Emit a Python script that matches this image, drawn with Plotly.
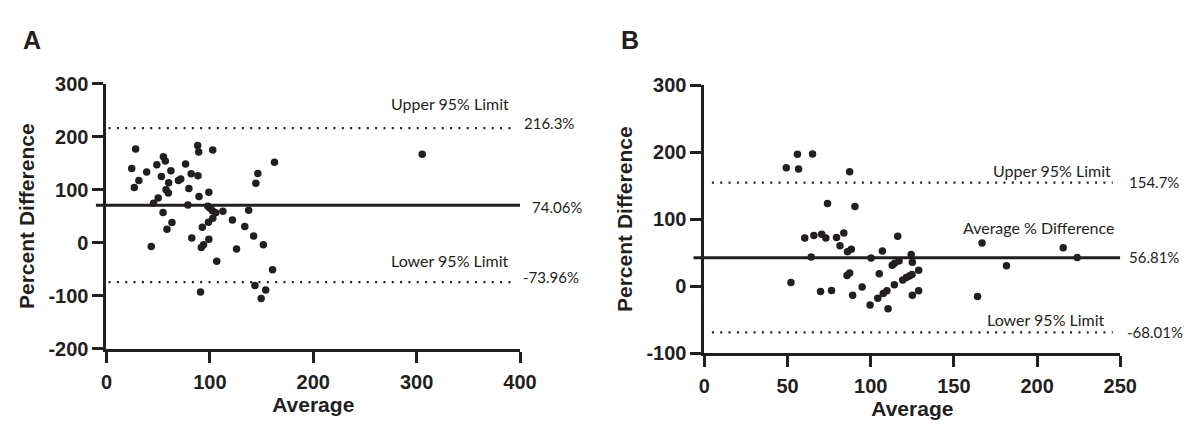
import plotly.graph_objects as go

W, H = 1193, 424
INK = "#231f20"

# ---------------- Panel A data ----------------
a_avg = [24.4, 28.2, 26.9, 31.3, 38.9, 43.3, 45.5, 48.7, 50.0, 53.1,
         54.7, 55.0, 56.9, 57.6, 58.5, 59.8, 60.1, 62.3, 63.3, 69.6,
         71.8, 76.5, 78.7, 79.7, 81.9, 82.5, 88.2, 89.2, 88.5, 89.5,
         91.0, 91.7, 93.9, 92.7, 98.6, 99.0, 99.0, 98.0, 100.2, 102.5,
         102.8, 102.8, 105.6, 106.6, 112.6, 121.8, 125.8, 133.8, 137.5, 142.3,
         143.6, 144.5, 146.4, 149.6, 151.7, 154.0, 160.6, 162.5, 305.4]
a_diff = [140, 177, 104, 117.5, 133.6, -7, 74.6, 147, 84.6, 125,
          57, 162, 154.4, 100, 25.6, 94, 113, 136, 38, 117.5,
          120.4, 148.5, 71, 102.5, 130, 9, 183.7, 171, 126.5, 87,
          -93, -9, -4, 29.2, 38.8, 6.6, 95.4, 69, 65, 60.5,
          46, 175, 56.7, -35, 59.6, 43, -12, 30.4, 61.4, 12.5,
          -81, 112, 130.6, -105.5, -4, -89.4, -51, 152, 167]
a_upper, a_mean, a_lower = 216.3, 70.8, -74.3
a_labels = ["216.3%", "74.06%", "-73.96%"]
a_solid_x = [-10.4, 400]
a_dot_x = [2, 392.6]
a_xticks = [0, 100, 200, 300, 400]
a_yticks = [-200, -100, 0, 100, 200, 300]

# ---------------- Panel B data ----------------
b_avg = [49.2, 55.9, 56.6, 65.0, 52.0, 60.3, 65.8, 64.2, 70.5, 73.0,
         74.0, 69.8, 76.4, 79.4, 81.5, 83.8, 86.0, 88.3, 87.3, 90.5,
         85.7, 87.3, 89.1, 94.8, 99.6, 100.2, 104.2, 105.1, 107.0, 107.5,
         109.7, 110.4, 112.9, 114.3, 114.2, 116.2, 117.0, 119.2, 121.4, 123.2,
         124.3, 124.8, 125.0, 125.0, 128.8, 128.8, 164.2, 166.9, 181.6, 215.7,
         224.1]
b_diff = [177, 197, 175, 197.4, 5.5, 72, 75.5, 43.5, 77.5, 72,
          123.5, -8, -6.5, 72.7, 60.3, 79.5, 51.5, 55, 171, 119,
          16, 19.5, -13.6, -1.2, -28.2, 42, -18, 18.5, 52.3, -11,
          -7, -33.8, 31.2, 34, 1.9, 74.6, 37.4, 9, 12.8, 15.1,
          47.3, 17.5, 35.5, -13.7, 23.7, -7.1, -15.6, 64.4, 30.3, 57.3,
          42.6]
b_upper, b_mean, b_lower = 154.7, 42.5, -69.0
b_labels = ["154.7%", "56.81%", "-68.01%"]
b_solid_x = [-6.7, 250]
b_dot_x = [4.5, 245.5]
b_xticks = [0, 50, 100, 150, 200, 250]
b_yticks = [-100, 0, 100, 200, 300]

# ---------------- geometry (pixels) ----------------
A_X = (94.3, 516.0); A_Y = (68.3, 347.7)
B_X = (704.0, 1128.0); B_Y = (70.0, 352.3)
A_RX = [0, 400]; A_RY = [-200, 300]
B_RX = [0, 250]; B_RY = [-100, 300]


def xdom(px):
    return [px[0] / W, px[1] / W]


def ydom(py):
    return [1 - py[1] / H, 1 - py[0] / H]


def ext_dom(px, rng, new_left):
    scale = (px[1] - px[0]) / (rng[1] - rng[0])
    left = px[0] - (rng[0] - new_left) * scale
    return [left / W, px[1] / W]


def lbl(v):
    return str(v)  # plain hyphen minus like the original


fig = go.Figure()

DOT = "2px,6.33px"
fig.add_trace(go.Scatter(x=a_avg, y=a_diff, mode="markers", xaxis="x", yaxis="y",
                         marker=dict(size=7.5, color=INK), cliponaxis=False, showlegend=False))
fig.add_trace(go.Scatter(x=b_avg, y=b_diff, mode="markers", xaxis="x2", yaxis="y2",
                         marker=dict(size=7.5, color=INK), cliponaxis=False, showlegend=False))

# limit lines on twin axes whose x range reaches a little left of zero
for up, mn, lo, sx, dx, xa, ya in (
        (a_upper, a_mean, a_lower, a_solid_x, a_dot_x, "x3", "y3"),
        (b_upper, b_mean, b_lower, b_solid_x, b_dot_x, "x4", "y4")):
    fig.add_trace(go.Scatter(x=sx, y=[mn, mn], mode="lines", xaxis=xa, yaxis=ya,
                             line=dict(color=INK, width=3), showlegend=False, hoverinfo="skip"))
    for v in (up, lo):
        fig.add_trace(go.Scatter(x=dx, y=[v, v], mode="lines", xaxis=xa, yaxis=ya,
                                 line=dict(color=INK, width=2.2, dash=DOT), showlegend=False,
                                 hoverinfo="skip"))

tickfont = dict(family="Liberation Sans, Arial", size=20, color=INK, weight="bold")
titlefont = dict(family="Liberation Sans, Arial", size=21, color=INK, weight="bold")
common = dict(showline=True, linewidth=3, linecolor=INK, ticks="outside", ticklen=11,
              tickwidth=3, tickcolor=INK, showgrid=False, zeroline=False,
              tickfont=tickfont, fixedrange=True, tickmode="array")
hidden = dict(visible=False, fixedrange=True, showgrid=False, zeroline=False)

fig.update_layout(
    width=W, height=H, margin=dict(l=0, r=0, t=0, b=0),
    paper_bgcolor="white", plot_bgcolor="rgba(0,0,0,0)",
    xaxis=dict(domain=xdom(A_X), range=A_RX, anchor="y", tickvals=a_xticks,
               ticktext=[lbl(v) for v in a_xticks], ticklabelstandoff=2,
               title=dict(text="Average", font=titlefont, standoff=6), **common),
    yaxis=dict(domain=ydom(A_Y), range=A_RY, anchor="x", tickvals=a_yticks,
               ticktext=[lbl(v) for v in a_yticks], ticklabelstandoff=0,
               title=dict(text="Percent Difference", font=titlefont, standoff=9), **common),
    xaxis2=dict(domain=xdom(B_X), range=B_RX, anchor="y2", tickvals=b_xticks,
                ticktext=[lbl(v) for v in b_xticks], ticklabelstandoff=2,
                title=dict(text="Average", font=titlefont, standoff=6), **common),
    yaxis2=dict(domain=ydom(B_Y), range=B_RY, anchor="x2", tickvals=b_yticks,
                ticktext=[lbl(v) for v in b_yticks], ticklabelstandoff=0,
                title=dict(text="Percent Difference", font=titlefont, standoff=9), **common),
    xaxis3=dict(domain=ext_dom(A_X, A_RX, a_solid_x[0]), range=[a_solid_x[0], A_RX[1]],
                anchor="y3", **hidden),
    yaxis3=dict(domain=ydom(A_Y), range=A_RY, anchor="x3", **hidden),
    xaxis4=dict(domain=ext_dom(B_X, B_RX, b_solid_x[0]), range=[b_solid_x[0], B_RX[1]],
                anchor="y4", **hidden),
    yaxis4=dict(domain=ydom(B_Y), range=B_RY, anchor="x4", **hidden),
)

annfont = dict(family="Lato", size=16, color=INK)
valfont = dict(family="Lato", size=15, color=INK)
anns = []
anns += [
    dict(text="Upper 95% Limit", x=391.4, y=a_upper, xref="x", yref="y", xanchor="right", yanchor="middle", yshift=25, font=annfont),
    dict(text=a_labels[0], x=A_RX[1], y=a_upper, xref="x", yref="y", xanchor="left", yanchor="middle", xshift=2, yshift=5, font=valfont),
    dict(text="Average % Difference", x=401, y=a_mean, xref="x", yref="y", xanchor="right", yanchor="middle", yshift=24, font=annfont),
    dict(text=a_labels[1], x=A_RX[1], y=a_mean, xref="x", yref="y", xanchor="left", yanchor="middle", xshift=10, yshift=-1.5, font=valfont),
    dict(text="Lower 95% Limit", x=391, y=a_lower, xref="x", yref="y", xanchor="right", yanchor="middle", yshift=22, font=annfont),
    dict(text=a_labels[2], x=A_RX[1], y=a_lower, xref="x", yref="y", xanchor="left", yanchor="middle", xshift=0.5, yshift=5, font=valfont),
]
anns += [
    dict(text="Upper 95% Limit", x=245.6, y=b_upper, xref="x2", yref="y2", xanchor="right", yanchor="middle", yshift=12, font=annfont),
    dict(text=b_labels[0], x=B_RX[1], y=b_upper, xref="x2", yref="y2", xanchor="left", yanchor="middle", xshift=6.5, yshift=1, font=valfont),
    dict(text="Average % Difference", x=247.5, y=b_mean, xref="x2", yref="y2", xanchor="right", yanchor="middle", yshift=30, font=annfont),
    dict(text=b_labels[1], x=B_RX[1], y=b_mean, xref="x2", yref="y2", xanchor="left", yanchor="middle", xshift=6.5, yshift=0.5, font=valfont),
    dict(text="Lower 95% Limit", x=242.2, y=b_lower, xref="x2", yref="y2", xanchor="right", yanchor="middle", yshift=13, font=annfont),
    dict(text=b_labels[2], x=B_RX[1], y=b_lower, xref="x2", yref="y2", xanchor="left", yanchor="middle", xshift=5, yshift=0.5, font=valfont),
]
for a in anns:
    a.update(showarrow=False)

letterfont = dict(family="Liberation Sans, Arial", size=25, color=INK, weight="bold")
anns += [
    dict(text="A", x=7 / W, y=1 - 22 / H, xref="paper", yref="paper",
         xanchor="left", yanchor="middle", showarrow=False, font=letterfont),
    dict(text="B", x=617 / W, y=1 - 22 / H, xref="paper", yref="paper",
         xanchor="left", yanchor="middle", showarrow=False, font=letterfont),
]
fig.update_layout(annotations=anns)

fig.write_html("out.html", config={"displayModeBar": False})
